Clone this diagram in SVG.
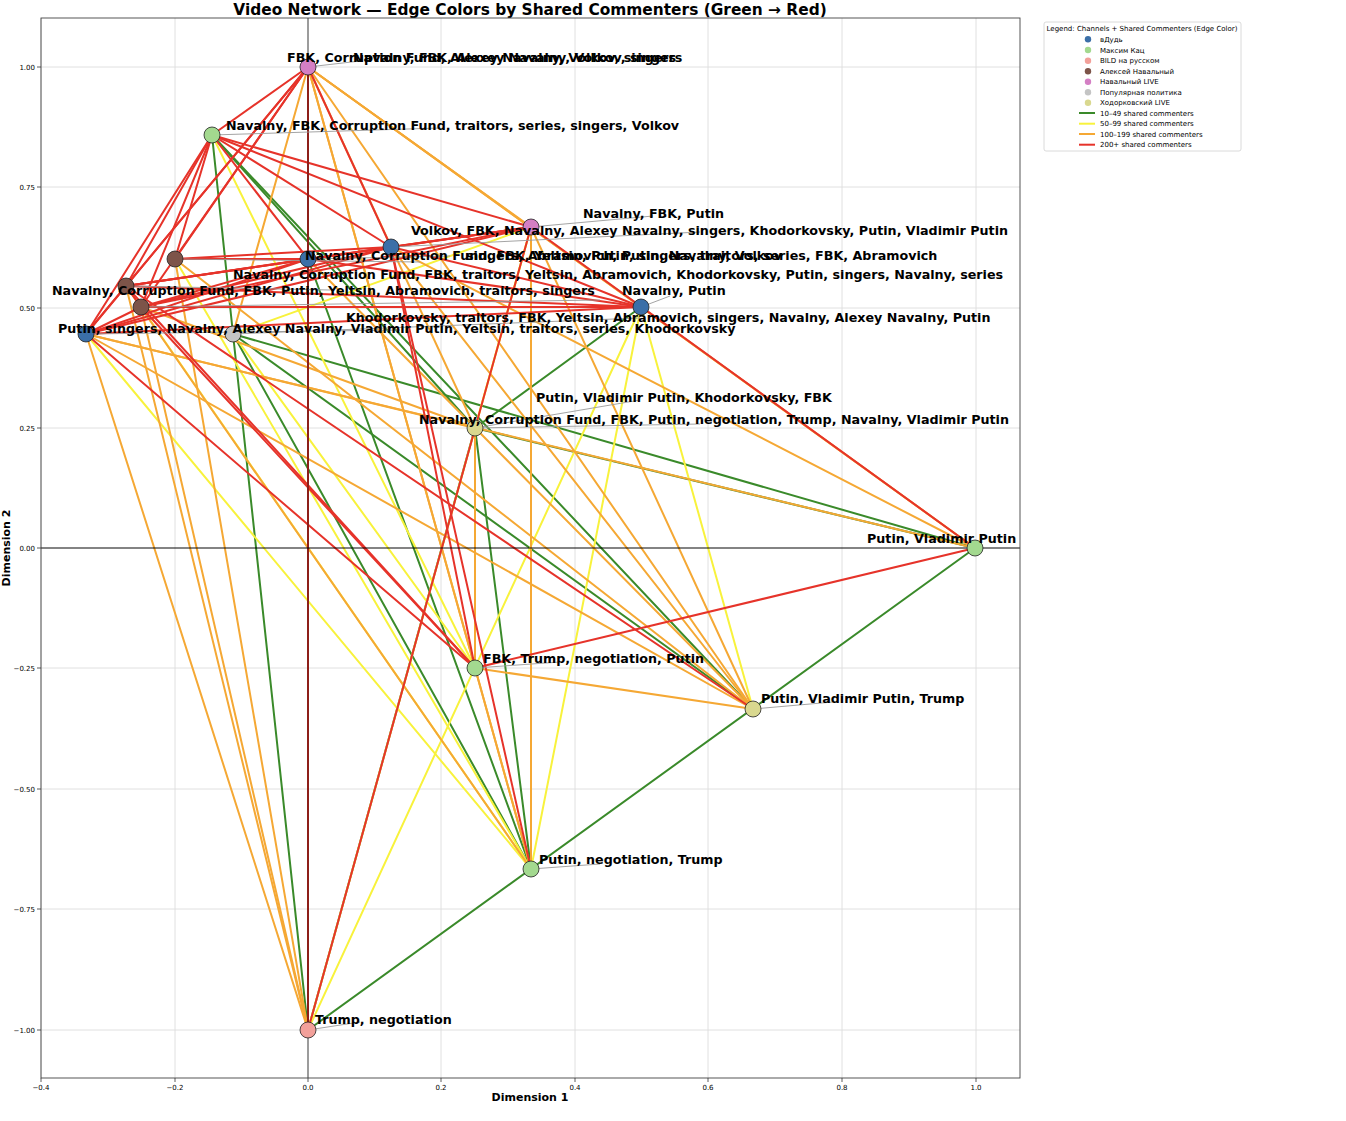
<svg xmlns="http://www.w3.org/2000/svg" width="1346" height="1121" viewBox="0 0 1346 1121">
<style>
text{font-family:"DejaVu Sans","Liberation Sans",sans-serif;fill:#000}
.grid line{stroke:#dcdcdc;stroke-width:0.9}
.e line{stroke-width:2;stroke-linecap:round}
.g{stroke:#3a8a2a}
.y{stroke:#f8f23c}
.o{stroke:#f5a834}
.r{stroke:#e6332a}
.nd{stroke:#222;stroke-width:0.8}
.lead{stroke:#9a9a9a;stroke-width:0.9}
.lbl{font-size:12.7px;font-weight:bold}
.tk{font-size:7px;fill:#333}
.tick{stroke:#333;stroke-width:0.8}
.leg{font-size:7px}
</style>
<rect x="0" y="0" width="1346" height="1121" fill="#fff"/>
<text x="530" y="15" text-anchor="middle" style="font-size:15.4px;font-weight:bold">Video Network — Edge Colors by Shared Commenters (Green → Red)</text>
<g class="grid">
<line x1="41" y1="18" x2="41" y2="1078"/><line x1="175" y1="18" x2="175" y2="1078"/><line x1="441" y1="18" x2="441" y2="1078"/><line x1="575" y1="18" x2="575" y2="1078"/><line x1="708" y1="18" x2="708" y2="1078"/><line x1="842" y1="18" x2="842" y2="1078"/><line x1="976" y1="18" x2="976" y2="1078"/>
<line x1="41" y1="67" x2="1020" y2="67"/><line x1="41" y1="187" x2="1020" y2="187"/><line x1="41" y1="308" x2="1020" y2="308"/><line x1="41" y1="428" x2="1020" y2="428"/><line x1="41" y1="668" x2="1020" y2="668"/><line x1="41" y1="789" x2="1020" y2="789"/><line x1="41" y1="909" x2="1020" y2="909"/><line x1="41" y1="1030" x2="1020" y2="1030"/>
</g>
<g id="connectors" class="e">
<line class="g" x1="212" y1="135" x2="233" y2="334"/>
<line class="g" x1="212" y1="135" x2="475" y2="428"/>
<line class="g" x1="212" y1="135" x2="753" y2="709"/>
<line class="g" x1="233" y1="334" x2="975" y2="548"/>
<line class="g" x1="475" y1="428" x2="975" y2="548"/>
<line class="g" x1="233" y1="334" x2="753" y2="709"/>
<line class="g" x1="233" y1="334" x2="308" y2="1030"/>
<line class="g" x1="475" y1="428" x2="308" y2="1030"/>
<line class="g" x1="475" y1="428" x2="531" y2="869"/>
<line class="g" x1="233" y1="334" x2="531" y2="869"/>
<line class="g" x1="975" y1="548" x2="308" y2="1030"/>
<line class="g" x1="641" y1="307" x2="475" y2="428"/>
<line class="g" x1="308" y1="259" x2="531" y2="869"/>
<line class="y" x1="212" y1="135" x2="475" y2="668"/>
<line class="y" x1="233" y1="334" x2="531" y2="227"/>
<line class="y" x1="475" y1="428" x2="531" y2="227"/>
<line class="y" x1="86" y1="334" x2="531" y2="869"/>
<line class="y" x1="141" y1="307" x2="531" y2="869"/>
<line class="y" x1="233" y1="334" x2="475" y2="668"/>
<line class="y" x1="641" y1="307" x2="753" y2="709"/>
<line class="y" x1="641" y1="307" x2="531" y2="869"/>
<line class="y" x1="175" y1="259" x2="531" y2="869"/>
<line class="y" x1="308" y1="1030" x2="641" y2="307"/>
<line class="y" x1="308" y1="1030" x2="531" y2="227"/>
<line class="o" x1="308" y1="67" x2="531" y2="227"/>
<line class="o" x1="308" y1="67" x2="641" y2="307"/>
<line class="o" x1="308" y1="67" x2="975" y2="548"/>
<line class="o" x1="308" y1="67" x2="475" y2="428"/>
<line class="o" x1="308" y1="67" x2="475" y2="668"/>
<line class="o" x1="308" y1="67" x2="753" y2="709"/>
<line class="o" x1="308" y1="67" x2="531" y2="869"/>
<line class="o" x1="308" y1="67" x2="233" y2="334"/>
<line class="o" x1="531" y1="227" x2="531" y2="869"/>
<line class="o" x1="531" y1="227" x2="753" y2="709"/>
<line class="o" x1="641" y1="307" x2="975" y2="548"/>
<line class="o" x1="391" y1="247" x2="975" y2="548"/>
<line class="o" x1="86" y1="334" x2="308" y2="1030"/>
<line class="o" x1="126" y1="286" x2="308" y2="1030"/>
<line class="o" x1="141" y1="307" x2="308" y2="1030"/>
<line class="o" x1="175" y1="259" x2="308" y2="1030"/>
<line class="o" x1="86" y1="334" x2="475" y2="428"/>
<line class="o" x1="141" y1="307" x2="475" y2="428"/>
<line class="o" x1="175" y1="259" x2="753" y2="709"/>
<line class="o" x1="86" y1="334" x2="753" y2="709"/>
<line class="o" x1="126" y1="286" x2="531" y2="869"/>
<line class="o" x1="308" y1="259" x2="753" y2="709"/>
<line class="o" x1="475" y1="668" x2="753" y2="709"/>
<line class="o" x1="475" y1="668" x2="531" y2="869"/>
<line class="o" x1="475" y1="428" x2="475" y2="668"/>
<line class="o" x1="86" y1="334" x2="975" y2="548"/>
<line class="o" x1="391" y1="247" x2="753" y2="709"/>
<line class="r" x1="308" y1="67" x2="212" y2="135"/>
<line class="r" x1="308" y1="67" x2="175" y2="259"/>
<line class="r" x1="308" y1="67" x2="126" y2="286"/>
<line class="r" x1="308" y1="67" x2="141" y2="307"/>
<line class="r" x1="308" y1="67" x2="86" y2="334"/>
<line class="r" x1="308" y1="67" x2="308" y2="1030"/>
<line class="r" x1="308" y1="67" x2="391" y2="247"/>
<line class="r" x1="212" y1="135" x2="175" y2="259"/>
<line class="r" x1="212" y1="135" x2="126" y2="286"/>
<line class="r" x1="212" y1="135" x2="141" y2="307"/>
<line class="r" x1="212" y1="135" x2="86" y2="334"/>
<line class="r" x1="212" y1="135" x2="531" y2="227"/>
<line class="r" x1="212" y1="135" x2="641" y2="307"/>
<line class="r" x1="212" y1="135" x2="391" y2="247"/>
<line class="r" x1="212" y1="135" x2="308" y2="259"/>
<line class="r" x1="531" y1="227" x2="308" y2="259"/>
<line class="r" x1="531" y1="227" x2="391" y2="247"/>
<line class="r" x1="531" y1="227" x2="126" y2="286"/>
<line class="r" x1="531" y1="227" x2="141" y2="307"/>
<line class="r" x1="531" y1="227" x2="86" y2="334"/>
<line class="r" x1="531" y1="227" x2="975" y2="548"/>
<line class="r" x1="391" y1="247" x2="126" y2="286"/>
<line class="r" x1="391" y1="247" x2="141" y2="307"/>
<line class="r" x1="391" y1="247" x2="86" y2="334"/>
<line class="r" x1="391" y1="247" x2="641" y2="307"/>
<line class="r" x1="391" y1="247" x2="475" y2="668"/>
<line class="r" x1="308" y1="259" x2="126" y2="286"/>
<line class="r" x1="308" y1="259" x2="141" y2="307"/>
<line class="r" x1="308" y1="259" x2="86" y2="334"/>
<line class="r" x1="308" y1="259" x2="641" y2="307"/>
<line class="r" x1="126" y1="286" x2="141" y2="307"/>
<line class="r" x1="126" y1="286" x2="86" y2="334"/>
<line class="r" x1="126" y1="286" x2="641" y2="307"/>
<line class="r" x1="141" y1="307" x2="86" y2="334"/>
<line class="r" x1="141" y1="307" x2="641" y2="307"/>
<line class="r" x1="641" y1="307" x2="86" y2="334"/>
<line class="r" x1="86" y1="334" x2="475" y2="668"/>
<line class="r" x1="126" y1="286" x2="475" y2="668"/>
<line class="r" x1="141" y1="307" x2="475" y2="668"/>
<line class="r" x1="531" y1="227" x2="308" y2="1030"/>
<line class="r" x1="391" y1="247" x2="531" y2="869"/>
<line class="r" x1="475" y1="668" x2="975" y2="548"/>
<line class="r" x1="126" y1="286" x2="753" y2="709"/>
<line class="r" x1="175" y1="259" x2="308" y2="259"/>
<line class="r" x1="175" y1="259" x2="391" y2="247"/>
</g>
<g id="axes">
<line x1="41" y1="548" x2="1020" y2="548" stroke="#000" stroke-opacity="0.65" stroke-width="1.3"/>
<line x1="308" y1="18" x2="308" y2="1078" stroke="#000" stroke-opacity="0.6" stroke-width="1.3"/>
<rect x="41" y="18" width="979" height="1060" fill="none" stroke="#444" stroke-width="0.9"/>
<g class="tick">
<line x1="41" y1="1078" x2="41" y2="1082"/><line x1="175" y1="1078" x2="175" y2="1082"/><line x1="308" y1="1078" x2="308" y2="1082"/><line x1="441" y1="1078" x2="441" y2="1082"/><line x1="575" y1="1078" x2="575" y2="1082"/><line x1="708" y1="1078" x2="708" y2="1082"/><line x1="842" y1="1078" x2="842" y2="1082"/><line x1="976" y1="1078" x2="976" y2="1082"/>
<line x1="37" y1="67" x2="41" y2="67"/><line x1="37" y1="187" x2="41" y2="187"/><line x1="37" y1="308" x2="41" y2="308"/><line x1="37" y1="428" x2="41" y2="428"/><line x1="37" y1="548" x2="41" y2="548"/><line x1="37" y1="668" x2="41" y2="668"/><line x1="37" y1="789" x2="41" y2="789"/><line x1="37" y1="909" x2="41" y2="909"/><line x1="37" y1="1030" x2="41" y2="1030"/>
</g>
<g class="tk" text-anchor="middle">
<text x="41" y="1090">−0.4</text><text x="175" y="1090">−0.2</text><text x="308" y="1090">0.0</text><text x="441" y="1090">0.2</text><text x="575" y="1090">0.4</text><text x="708" y="1090">0.6</text><text x="842" y="1090">0.8</text><text x="976" y="1090">1.0</text>
</g>
<g class="tk" text-anchor="end">
<text x="35" y="69.5">1.00</text><text x="35" y="189.5">0.75</text><text x="35" y="310.5">0.50</text><text x="35" y="430.5">0.25</text><text x="35" y="550.5">0.00</text><text x="35" y="670.5">−0.25</text><text x="35" y="791.5">−0.50</text><text x="35" y="911.5">−0.75</text><text x="35" y="1032.5">−1.00</text>
</g>
<text x="530" y="1101" text-anchor="middle" style="font-size:11px;font-weight:bold">Dimension 1</text>
<text transform="translate(10,548) rotate(-90)" text-anchor="middle" style="font-size:11px;font-weight:bold">Dimension 2</text>
</g>
<g class="lead">
<line x1="308" y1="67" x2="360" y2="61"/>
<line x1="212" y1="135" x2="440" y2="128"/>
<line x1="531" y1="227" x2="653" y2="216"/>
<line x1="391" y1="247" x2="700" y2="232"/>
<line x1="308" y1="259" x2="450" y2="256"/>
<line x1="175" y1="259" x2="420" y2="262"/>
<line x1="126" y1="286" x2="330" y2="290"/>
<line x1="141" y1="307" x2="600" y2="300"/>
<line x1="641" y1="307" x2="670" y2="296"/>
<line x1="86" y1="334" x2="400" y2="330"/>
<line x1="233" y1="334" x2="640" y2="318"/>
<line x1="475" y1="428" x2="700" y2="424"/>
<line x1="475" y1="428" x2="640" y2="400"/>
<line x1="975" y1="548" x2="968" y2="543"/>
<line x1="475" y1="668" x2="560" y2="662"/>
<line x1="753" y1="709" x2="833" y2="702"/>
<line x1="531" y1="869" x2="600" y2="864"/>
<line x1="308" y1="1030" x2="360" y2="1022"/>
</g>
<g id="node-1"><circle class="nd" cx="308" cy="67" r="8" fill="#d47fc4"/></g>
<g id="node-2"><circle class="nd" cx="212" cy="135" r="8" fill="#a3d98f"/></g>
<g id="node-3"><circle class="nd" cx="531" cy="227" r="8" fill="#d47fc4"/></g>
<g id="node-4"><circle class="nd" cx="391" cy="247" r="8" fill="#3b6fa8"/></g>
<g id="node-5"><circle class="nd" cx="175" cy="259" r="8" fill="#7d5449"/></g>
<g id="node-6"><circle class="nd" cx="308" cy="259" r="8" fill="#3b6fa8"/></g>
<g id="node-7"><circle class="nd" cx="126" cy="286" r="8" fill="#7d5449"/></g>
<g id="node-8"><circle class="nd" cx="141" cy="307" r="8" fill="#7d5449"/></g>
<g id="node-9"><circle class="nd" cx="641" cy="307" r="8" fill="#3b6fa8"/></g>
<g id="node-10"><circle class="nd" cx="86" cy="334" r="8" fill="#3b6fa8"/></g>
<g id="node-11"><circle class="nd" cx="233" cy="334" r="8" fill="#c4c4c4"/></g>
<g id="node-12"><circle class="nd" cx="475" cy="428" r="8" fill="#d9d88f"/></g>
<g id="node-13"><circle class="nd" cx="975" cy="548" r="8" fill="#a3d98f"/></g>
<g id="node-14"><circle class="nd" cx="475" cy="668" r="8" fill="#a3d98f"/></g>
<g id="node-15"><circle class="nd" cx="753" cy="709" r="8" fill="#d9d88f"/></g>
<g id="node-16"><circle class="nd" cx="531" cy="869" r="8" fill="#a3d98f"/></g>
<g id="node-17"><circle class="nd" cx="308" cy="1030" r="8" fill="#f2a09a"/></g>
<g id="labels" class="lbl">
<text x="287" y="62">FBK, Corruption Fund, Alexey Navalny, Volkov, singers</text>
<text x="353" y="62">Navalny, FBK, Alexey Navalny, Volkov, singers</text>
<text x="226" y="130">Navalny, FBK, Corruption Fund, traitors, series, singers, Volkov</text>
<text x="583" y="218">Navalny, FBK, Putin</text>
<text x="411" y="235">Volkov, FBK, Navalny, Alexey Navalny, singers, Khodorkovsky, Putin, Vladimir Putin</text>
<text x="305" y="260">Navalny, Corruption Fund, FBK, Yeltsin, Putin, singers, traitors, series, FBK, Abramovich</text>
<text x="466" y="260">singers, Abramovich, Putin, Navalny, Volkov</text>
<text x="233" y="279">Navalny, Corruption Fund, FBK, traitors, Yeltsin, Abramovich, Khodorkovsky, Putin, singers, Navalny, series</text>
<text x="52" y="295">Navalny, Corruption Fund, FBK, Putin, Yeltsin, Abramovich, traitors, singers</text>
<text x="622" y="295">Navalny, Putin</text>
<text x="346" y="322">Khodorkovsky, traitors, FBK, Yeltsin, Abramovich, singers, Navalny, Alexey Navalny, Putin</text>
<text x="58" y="333">Putin, singers, Navalny, Alexey Navalny, Vladimir Putin, Yeltsin, traitors, series, Khodorkovsky</text>
<text x="536" y="402">Putin, Vladimir Putin, Khodorkovsky, FBK</text>
<text x="419" y="424">Navalny, Corruption Fund, FBK, Putin, negotiation, Trump, Navalny, Vladimir Putin</text>
<text x="867" y="543">Putin, Vladimir Putin</text>
<text x="483" y="663">FBK, Trump, negotiation, Putin</text>
<text x="761" y="703">Putin, Vladimir Putin, Trump</text>
<text x="539" y="864">Putin, negotiation, Trump</text>
<text x="315" y="1024">Trump, negotiation</text>
</g>
<g id="legend">
<rect x="1044" y="22" width="197" height="129" rx="2" fill="#fff" stroke="#d0d0d0" stroke-width="0.8"/>
<text class="leg" x="1142" y="30.5" text-anchor="middle">Legend: Channels + Shared Commenters (Edge Color)</text>
<circle cx="1088" cy="39.3" r="3.2" fill="#3b6fa8"/><text class="leg" x="1100" y="41.8">вДудь</text>
<circle cx="1088" cy="50" r="3.2" fill="#a3d98f"/><text class="leg" x="1100" y="52.5">Максим Кац</text>
<circle cx="1088" cy="60.7" r="3.2" fill="#f2a09a"/><text class="leg" x="1100" y="63.2">BILD на русском</text>
<circle cx="1088" cy="71.3" r="3.2" fill="#7d5449"/><text class="leg" x="1100" y="73.8">Алексей Навальный</text>
<circle cx="1088" cy="81.7" r="3.2" fill="#d47fc4"/><text class="leg" x="1100" y="84.2">Навальный LIVE</text>
<circle cx="1088" cy="92.3" r="3.2" fill="#c4c4c4"/><text class="leg" x="1100" y="94.8">Популярная политика</text>
<circle cx="1088" cy="102.7" r="3.2" fill="#d9d88f"/><text class="leg" x="1100" y="105.2">Ходорковский LIVE</text>
<line class="g" x1="1079" y1="113" x2="1095" y2="113" stroke-width="2"/><text class="leg" x="1100" y="115.5">10–49 shared commenters</text>
<line class="y" x1="1079" y1="123.7" x2="1095" y2="123.7" stroke-width="2"/><text class="leg" x="1100" y="126.2">50–99 shared commenters</text>
<line class="o" x1="1079" y1="134" x2="1095" y2="134" stroke-width="2"/><text class="leg" x="1100" y="136.5">100–199 shared commenters</text>
<line class="r" x1="1079" y1="144.7" x2="1095" y2="144.7" stroke-width="2"/><text class="leg" x="1100" y="147.2">200+ shared commenters</text>
</g>
</svg>
